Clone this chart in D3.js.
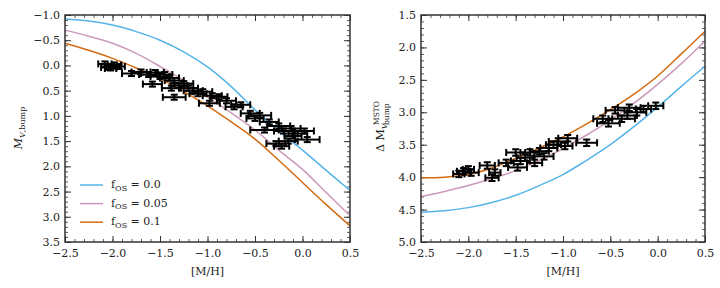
<!DOCTYPE html>
<html>
<head>
<meta charset="utf-8">
<script src="https://cdn.jsdelivr.net/npm/d3@7"></script>
<style>
  body { margin: 0; background: #fff; }
  svg text { font-family: "DejaVu Serif", "Liberation Serif", serif; fill: #222; }
</style>
</head>
<body>
<div id="wrapper"></div>
<script>
// ---- data ----
const metallicity = [-2.5, -2.25, -2.0, -1.75, -1.5, -1.25, -1.0, -0.75, -0.5, -0.25, 0.0, 0.25, 0.5];
const fosLabels = ["0.0", "0.05", "0.1"];

// left panel: M_V,bump models
const bumpOS00 = [-0.92, -0.88, -0.80, -0.67, -0.50, -0.27, 0.03, 0.42, 0.88, 1.30, 1.68, 2.08, 2.48];
const bumpOS05 = [-0.70, -0.58, -0.44, -0.24, 0.02, 0.30, 0.62, 0.94, 1.28, 1.68, 2.06, 2.52, 2.98];
const bumpOS10 = [-0.44, -0.30, -0.14, 0.05, 0.26, 0.52, 0.80, 1.12, 1.46, 1.88, 2.32, 2.76, 3.18];

// right panel: delta M_V (MSTO - bump) models
const deltaOS00 = [4.54, 4.52, 4.47, 4.39, 4.28, 4.13, 3.96, 3.74, 3.50, 3.22, 2.92, 2.60, 2.29];
const deltaOS05 = [4.30, 4.22, 4.13, 4.02, 3.90, 3.74, 3.56, 3.35, 3.12, 2.86, 2.57, 2.25, 1.90];
const deltaOS10 = [4.01, 4.00, 3.96, 3.86, 3.71, 3.55, 3.38, 3.18, 2.96, 2.72, 2.44, 2.10, 1.75];

// observed clusters: [M/H], value, x error, y error
const bumpObs = [
  [-2.08, -0.03, 0.07, 0.05], [-2.04, 0.04, 0.08, 0.05], [-1.98, -0.01, 0.07, 0.05],
  [-2.02, 0.06, 0.06, 0.04], [-1.93, 0.02, 0.06, 0.05], [-1.80, 0.16, 0.10, 0.05],
  [-1.70, 0.13, 0.10, 0.05], [-1.62, 0.18, 0.10, 0.05], [-1.55, 0.14, 0.09, 0.05],
  [-1.50, 0.22, 0.10, 0.05], [-1.45, 0.18, 0.08, 0.05], [-1.40, 0.25, 0.10, 0.05],
  [-1.35, 0.30, 0.10, 0.05], [-1.58, 0.37, 0.10, 0.05], [-1.38, 0.45, 0.10, 0.05],
  [-1.30, 0.40, 0.09, 0.05], [-1.25, 0.36, 0.10, 0.05], [-1.20, 0.45, 0.10, 0.05],
  [-1.15, 0.50, 0.10, 0.05], [-1.35, 0.63, 0.12, 0.05], [-1.10, 0.56, 0.09, 0.05],
  [-1.05, 0.52, 0.10, 0.05], [-0.98, 0.75, 0.11, 0.05], [-0.95, 0.60, 0.10, 0.05],
  [-0.88, 0.62, 0.09, 0.05], [-0.80, 0.70, 0.10, 0.05], [-0.72, 0.82, 0.09, 0.05],
  [-0.65, 0.78, 0.10, 0.05], [-0.55, 0.95, 0.10, 0.05], [-0.45, 0.99, 0.12, 0.05],
  [-0.50, 1.05, 0.09, 0.05], [-0.40, 1.28, 0.15, 0.05], [-0.35, 1.12, 0.10, 0.05],
  [-0.25, 1.20, 0.12, 0.05], [-0.20, 1.30, 0.10, 0.05], [-0.12, 1.25, 0.10, 0.05],
  [-0.05, 1.35, 0.10, 0.05], [0.02, 1.30, 0.10, 0.05], [-0.10, 1.40, 0.09, 0.05],
  [0.05, 1.47, 0.13, 0.05], [-0.28, 1.55, 0.10, 0.05], [-0.22, 1.60, 0.08, 0.05],
  [-0.15, 1.50, 0.10, 0.05]
];
const deltaObs = [
  [-2.10, 3.95, 0.06, 0.05], [-2.05, 3.91, 0.07, 0.05], [-1.97, 3.93, 0.08, 0.05],
  [-2.00, 3.88, 0.06, 0.05], [-1.80, 3.82, 0.08, 0.05], [-1.75, 4.01, 0.07, 0.05],
  [-1.72, 3.93, 0.06, 0.05], [-1.60, 3.78, 0.08, 0.05], [-1.50, 3.62, 0.10, 0.05],
  [-1.48, 3.85, 0.10, 0.05], [-1.45, 3.75, 0.10, 0.05], [-1.40, 3.70, 0.09, 0.05],
  [-1.35, 3.62, 0.10, 0.05], [-1.30, 3.78, 0.08, 0.05], [-1.25, 3.60, 0.10, 0.05],
  [-1.20, 3.68, 0.10, 0.05], [-1.15, 3.55, 0.09, 0.05], [-1.10, 3.50, 0.08, 0.05],
  [-1.05, 3.45, 0.10, 0.05], [-0.98, 3.52, 0.08, 0.05], [-0.95, 3.40, 0.10, 0.05],
  [-0.75, 3.47, 0.11, 0.05], [-0.58, 3.10, 0.10, 0.05], [-0.52, 3.17, 0.12, 0.05],
  [-0.45, 2.97, 0.10, 0.05], [-0.38, 3.10, 0.14, 0.05], [-0.32, 3.05, 0.10, 0.05],
  [-0.30, 2.93, 0.12, 0.05], [-0.22, 3.00, 0.10, 0.05], [-0.15, 2.95, 0.08, 0.05],
  [-0.02, 2.90, 0.08, 0.05]
];

const xTicks = [-2.5, -2.0, -1.5, -1.0, -0.5, 0.0, 0.5];
const leftYTicks = [-1.0, -0.5, 0.0, 0.5, 1.0, 1.5, 2.0, 2.5, 3.0, 3.5];
const rightYTicks = [1.5, 2.0, 2.5, 3.0, 3.5, 4.0, 4.5, 5.0];

const colors = ["#56b4e9", "#cc99bb", "#d36b12"];

// ---- layout ----
const width = 720, height = 288;
const plotTop = 15, plotBottom = 242;
const serif = "DejaVu Serif, Liberation Serif, serif";
const svg = d3.select("#wrapper").append("svg")
  .attr("width", width).attr("height", height);

const fmt = v => d3.format(".1f")(v).replace("-", "\u2212");

function panel(x0, x1, yDomain, yTicks, models, obs) {
  const x = d3.scaleLinear().domain([-2.5, 0.5]).range([x0, x1]);
  const y = d3.scaleLinear().domain(yDomain).range([plotTop, plotBottom]);
  const g = svg.append("g");

  // ticks on all four sides, minor every 0.1
  const xMinor = d3.range(-2.5, 0.5001, 0.1).map(v => +v.toFixed(2));
  const yMinor = d3.range(yDomain[0], yDomain[1] + 0.0001, 0.1).map(v => +v.toFixed(2));
  const axes = [
    [d3.axisBottom(x), `translate(0,${plotBottom})`, xTicks, xMinor, true, 7],
    [d3.axisTop(x), `translate(0,${plotTop})`, xTicks, xMinor, false, 5],
    [d3.axisLeft(y), `translate(${x0},0)`, yTicks, yMinor, true, 5],
    [d3.axisRight(y), `translate(${x1},0)`, yTicks, yMinor, false, 5]
  ];
  axes.forEach(([ax, tr, major, minor, labels, pad]) => {
    g.append("g").attr("transform", tr)
      .call(ax.tickValues(minor).tickSize(-3).tickFormat(""))
      .call(s => s.select(".domain").remove())
      .selectAll("line").attr("stroke", "#333").attr("stroke-width", 0.8);
    const a = g.append("g").attr("transform", tr).attr("font-family", serif)
      .call(ax.tickValues(major).tickSize(-6).tickPadding(pad).tickFormat(labels ? fmt : ""));
    a.select(".domain").remove();
    a.selectAll("line").attr("stroke", "#333").attr("stroke-width", 1);
    a.selectAll("text").attr("font-size", 11).attr("fill", "#222");
  });

  // model curves
  const line = d3.line().x((d, i) => x(metallicity[i])).y(d => y(d)).curve(d3.curveCatmullRom);
  models.forEach((m, i) => {
    g.append("path").datum(m).attr("d", line)
      .attr("fill", "none").attr("stroke", colors[i]).attr("stroke-width", 1.5);
  });

  // error bars
  const eb = g.append("g").attr("stroke", "#000").attr("stroke-width", 2);
  obs.forEach(([mh, v, ex, ey]) => {
    const cx = x(mh), cy = y(v);
    eb.append("line").attr("x1", x(mh - ex)).attr("x2", x(mh + ex)).attr("y1", cy).attr("y2", cy);
    eb.append("line").attr("x1", cx).attr("x2", cx).attr("y1", y(v - ey)).attr("y2", y(v + ey));
    [mh - ex, mh + ex].forEach(e => eb.append("line")
      .attr("x1", x(e)).attr("x2", x(e)).attr("y1", cy - 3.5).attr("y2", cy + 3.5));
    [v - ey, v + ey].forEach(e => eb.append("line")
      .attr("x1", cx - 3.5).attr("x2", cx + 3.5).attr("y1", y(e)).attr("y2", y(e)));
  });

  // frame
  g.append("rect").attr("x", x0).attr("y", plotTop).attr("width", x1 - x0).attr("height", plotBottom - plotTop)
    .attr("fill", "none").attr("stroke", "#333").attr("stroke-width", 1.5);

  // x label
  g.append("text").attr("x", (x0 + x1) / 2).attr("y", 275).attr("text-anchor", "middle")
    .attr("font-size", 11).text("[M/H]");
  return { x, y, g };
}

const left = panel(65, 350, [-1.0, 3.5], leftYTicks, [bumpOS00, bumpOS05, bumpOS10], bumpObs);
const right = panel(421, 705, [1.5, 5.0], rightYTicks, [deltaOS00, deltaOS05, deltaOS10], deltaObs);

// legend
const legend = left.g.append("g");
fosLabels.forEach((lab, i) => {
  const ly = 185 + i * 18.6;
  legend.append("line").attr("x1", 80).attr("x2", 103).attr("y1", ly).attr("y2", ly)
    .attr("stroke", colors[i]).attr("stroke-width", 1.5);
  const t = legend.append("text").attr("x", 111).attr("y", ly + 3).attr("font-size", 11);
  t.append("tspan").text("f");
  t.append("tspan").attr("font-size", 8).attr("dy", 2.5).text("OS");
  t.append("tspan").attr("dy", -2.5).text(" = " + lab);
});

// y labels
const yl = svg.append("text").attr("transform", "translate(22,128) rotate(-90)")
  .attr("text-anchor", "middle").attr("font-size", 11);
yl.append("tspan").attr("font-style", "italic").text("M");
yl.append("tspan").attr("font-size", 8).attr("dy", 3).attr("font-style", "italic").text("V");
yl.append("tspan").attr("font-size", 8).text(",bump");

const yr = svg.append("g").attr("transform", "translate(384,128) rotate(-90)");
const yrMain = yr.append("text").attr("x", -24).attr("font-size", 11);
yrMain.append("tspan").text("\u0394 M");
yrMain.append("tspan").attr("font-size", 8).attr("dy", 3).attr("font-style", "italic").text("V");
yr.append("text").attr("x", 3).attr("y", -5).attr("font-size", 7.5).text("MSTO");
yr.append("text").attr("x", 3).attr("y", 5).attr("font-size", 7.5).text("bump");
</script>
</body>
</html>
